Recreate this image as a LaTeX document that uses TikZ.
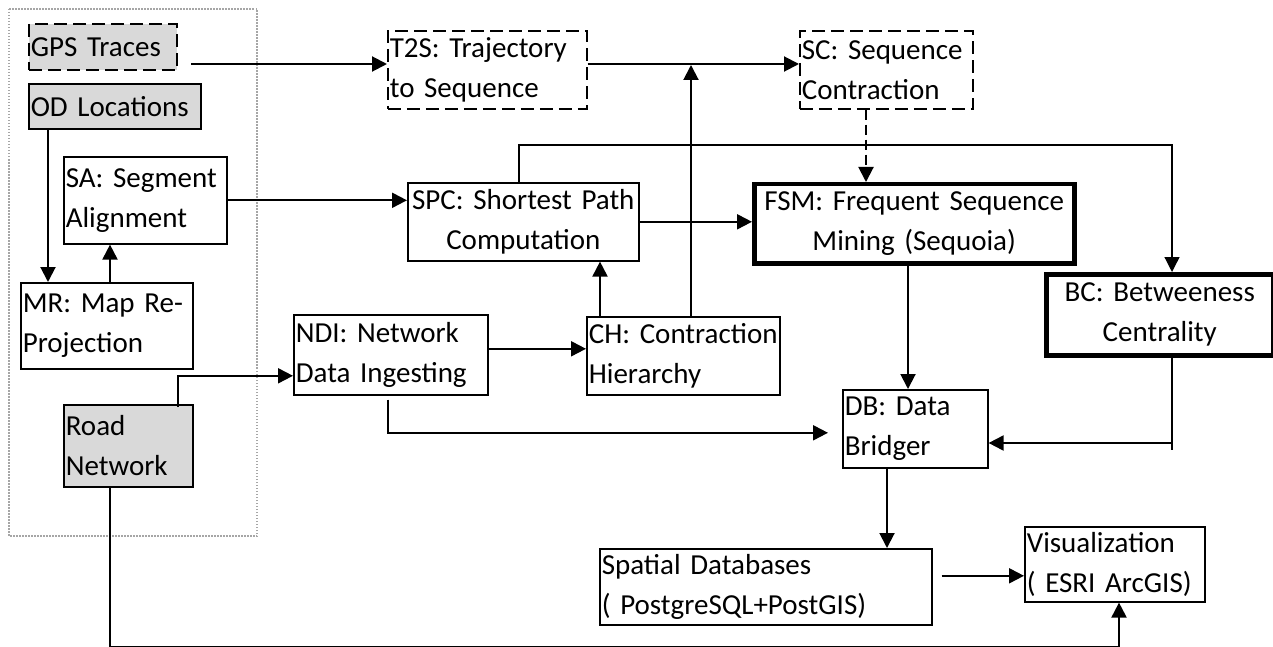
\documentclass[tikz,border=0pt]{standalone}
\usepackage{fontspec}
\setmainfont{Carlito}
\usepackage{xcolor}
\definecolor{inGray}{HTML}{D9D9D9}
\definecolor{groupGray}{HTML}{A6A6A6}
\usepackage{tikz}
\usetikzlibrary{arrows.meta, calc}

\tikzset{
  box/.style={draw, line width=1.6pt, inner xsep=2pt, inner ysep=0pt, anchor=north west,
    font=\fontsize{29}{40}\selectfont, align=left},
  sized/.style 2 args={minimum width=#1pt, minimum height=#2pt,
    /utils/exec={\pgfmathsetlengthmacro\boxtw{#1pt-4pt}}, text width=\boxtw},
  input/.style={fill=inGray},
  dashbox/.style={dash pattern=on 13pt off 6pt},
  heavy/.style={line width=4.5pt, align=center},
  arr/.style={-{Triangle[length=15pt,width=15pt]}, line width=2pt},
  thinarr/.style={arr, line width=1.3pt},
  thinline/.style={line width=1.3pt},
}

\begin{document}
\begin{tikzpicture}[x=1pt, y=-1pt]
  \useasboundingbox (0,0) rectangle (1273,647);
  % input data group
  \draw[groupGray, line width=1.2pt, dash pattern=on 1.5pt off 1.5pt] (9,9) rectangle (257,536);

  \node[box, input, dashbox, sized={148}{46}] (gps) at (28,23) {GPS Traces};
  \node[box, input, sized={172}{45}] (od) at (28,83) {OD Locations};
  \node[box, sized={163}{87}] (sa) at (63,156) {SA: Segment\\Alignment};
  \node[box, sized={172}{86}] (mr) at (20,282) {MR: Map Re-\\Projection};
  \node[box, input, sized={129}{82}] (road) at (63,404) {Road\\Network};

  \node[box, dashbox, sized={199}{78}] (t2s) at (387,30) {T2S: Trajectory\\to Sequence};
  \node[box, dashbox, sized={173}{78}] (sc) at (799,30) {SC: Sequence\\Contraction};
  \node[box, align=center, sized={231}{78}] (spc) at (407,182) {SPC: Shortest Path\\Computation};
  \node[box, heavy, sized={320}{79}] (fsm) at (752,182) {FSM: Frequent Sequence\\Mining (Sequoia)};
  \node[box, heavy, sized={227}{81}] (bc) at (1044,272) {BC: Betweeness\\Centrality};
  \node[box, sized={194}{80}] (ndi) at (293,314) {NDI: Network\\Data Ingesting};
  \node[box, sized={193}{78}] (ch) at (586,316) {CH: Contraction\\Hierarchy};
  \node[box, sized={145}{78}] (db) at (842,389) {DB: Data\\Bridger};
  \node[box, sized={332}{76}] (spatial) at (599,548) {Spatial Databases\\( PostgreSQL+PostGIS)};
  \node[box, sized={180}{75}] (vis) at (1024,526) {Visualization\\( ESRI ArcGIS)};

  \coordinate (gpsout) at (191,64);
  \coordinate (bcin) at (1172,145);
  \coordinate (bcout) at (1172,443);

  \draw[arr] (gpsout) -- (gpsout -| t2s.west);
  \draw[arr] (gpsout -| t2s.east) -- (gpsout -| sc.west);
  \draw[arr] ([xshift=105pt]ch.north west) -- ([xshift=105pt,yshift=-1pt]ch.north west |- gpsout);
  \draw[arr, dash pattern=on 10pt off 5pt] ([xshift=67pt]sc.south west) -- ([xshift=67pt]sc.south west |- fsm.north);
  \draw[arr] (sa.east) -- (sa.east -| spc.west);
  \draw[arr] (spc.east) -- (spc.east -| fsm.west);
  \draw[arr] ([xshift=14pt]ch.north west) -- ([xshift=14pt]ch.north west |- spc.south);
  \draw[thinarr] ([xshift=112pt]spc.north west) |- (bcin) -- (bcin |- bc.north);
  \draw[arr] ([xshift=156pt]fsm.south west) -- ([xshift=156pt]fsm.south west |- db.north);
  \draw[thinline] (bcin |- bc.south) -- ([yshift=-7pt]bcout);
  \draw[arr] (bcout) -- (bcout -| db.east);
  \draw[arr] ([yshift=6pt]ndi.east) -- ([yshift=6pt]ndi.east -| ch.west);
  \draw[arr] ([xshift=-3pt,yshift=-4pt]ndi.south) |- ([xshift=-14pt,yshift=-4pt]db.west);
  \draw[arr] ([xshift=-16pt,yshift=-3pt]road.north east) |- ([yshift=-21pt]ndi.west);
  \draw[arr] ([xshift=20pt]od.south west) -- ([xshift=20pt]od.south west |- mr.north);
  \draw[arr] ([xshift=90pt]mr.north west) -- ([xshift=90pt]mr.north west |- sa.south);
  \draw[arr] ([xshift=47pt]road.south west) -- ++(0,159) -| ([xshift=95pt]vis.south west);
  \draw[arr] ([xshift=45pt]db.south west) -- ([xshift=45pt]db.south west |- spatial.north);
  \draw[arr] ([xshift=9pt,yshift=11pt]spatial.east) -- ([yshift=11pt]spatial.east -| vis.west);
\end{tikzpicture}
\end{document}
